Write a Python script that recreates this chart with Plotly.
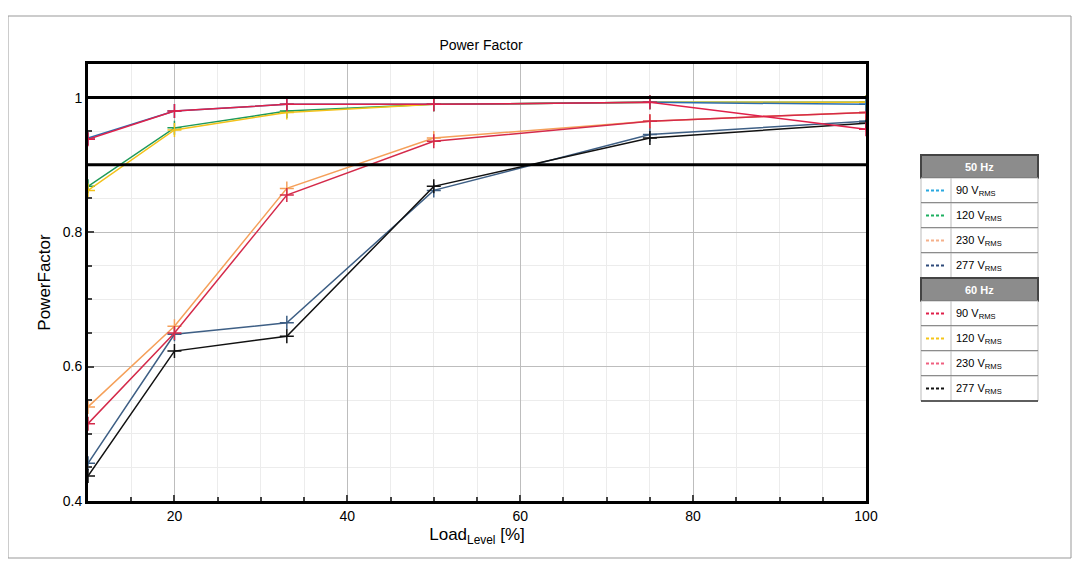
import plotly.graph_objects as go

# Load levels [%]
load = [10, 20, 33, 50, 75, 100]

# Power factor readings, 50 Hz
pf_50_90 = [0.940, 0.980, 0.990, 0.990, 0.993, 0.990]
pf_50_120 = [0.868, 0.955, 0.980, 0.990, 0.993, 0.993]
pf_50_230 = [0.540, 0.660, 0.865, 0.940, 0.965, 0.978]
pf_50_277 = [0.456, 0.648, 0.665, 0.862, 0.945, 0.965]

# Power factor readings, 60 Hz
pf_60_90 = [0.938, 0.980, 0.990, 0.990, 0.993, 0.953]
pf_60_120 = [0.862, 0.952, 0.978, 0.990, 0.993, 0.993]
pf_60_230 = [0.515, 0.650, 0.855, 0.935, 0.965, 0.978]
pf_60_277 = [0.437, 0.623, 0.645, 0.868, 0.940, 0.962]

voltages = ["90", "120", "230", "277"]

series = [
    ("50 Hz 277 V", pf_50_277, "#3e5f85", "#2e4a7a"),
    ("60 Hz 277 V", pf_60_277, "#111111", "#111111"),
    ("50 Hz 230 V", pf_50_230, "#f5a05a", "#f5b08a"),
    ("60 Hz 230 V", pf_60_230, "#d42a4a", "#f06080"),
    ("50 Hz 120 V", pf_50_120, "#1f9a5a", "#1db060"),
    ("60 Hz 120 V", pf_60_120, "#f2c21a", "#f5c518"),
    ("50 Hz 90 V", pf_50_90, "#2a6fb0", "#29a8e0"),
    ("60 Hz 90 V", pf_60_90, "#e0204a", "#e0204a"),
]

fig = go.Figure()
for name, vals, col, _ in series:
    fig.add_trace(go.Scatter(
        x=load, y=vals, name=name, mode="lines+markers",
        line=dict(color=col, width=1.5),
        marker=dict(symbol="cross-thin", size=10, line=dict(color=col, width=1.5)),
        showlegend=False,
    ))

# thick reference lines
for yv in [1.0, 0.9]:
    fig.add_shape(type="line", xref="x", yref="y", x0=10, x1=100, y0=yv, y1=yv,
                  line=dict(color="black", width=3))

W, H = 1080, 569
L, R, T, B = 80, 222, 56, 76
pw, ph = W - L - R, H - T - B


def px(x):
    return (x - 85) / 778


def py(y):
    return (499 - y) / 437


# outer frame
fig.add_shape(type="rect", xref="paper", yref="paper",
              x0=px(5), x1=px(1068), y0=py(556), y1=py(14),
              line=dict(color="#999999", width=1))

# legend table drawn by hand
tx0, tx1, tsplit = 918, 1035, 948
col50 = ["#29a8e0", "#1db060", "#f5b08a", "#2e4a7a"]
col60 = ["#e0204a", "#f5c518", "#f06080", "#111111"]
rows = [("50 Hz", None)] + list(zip(voltages, col50)) + [("60 Hz", None)] + list(zip(voltages, col60))
y = 153
rh = 25
for label, col in rows:
    if col is None:
        fig.add_shape(type="rect", xref="paper", yref="paper", x0=px(tx0), x1=px(tx1),
                      y0=py(y + 23), y1=py(y), fillcolor="#8c8c8c", line=dict(color="#444", width=2))
        fig.add_annotation(x=px((tx0 + tx1) / 2), y=py(y + 11.5), xref="paper", yref="paper",
                           xanchor="center", yanchor="middle",
                           text="<b>" + label + "</b>", showarrow=False,
                           font=dict(color="white", size=11, family="Liberation Sans"))
        y += 23
    else:
        fig.add_shape(type="rect", xref="paper", yref="paper", x0=px(tx0), x1=px(tx1),
                      y0=py(y + rh), y1=py(y), fillcolor="white", line=dict(color="#bbbbbb", width=1))
        fig.add_shape(type="line", xref="paper", yref="paper", x0=px(tsplit), x1=px(tsplit),
                      y0=py(y + rh), y1=py(y), line=dict(color="#bbbbbb", width=1))
        fig.add_shape(type="line", xref="paper", yref="paper", x0=px(tx0), x1=px(tx1),
                      y0=py(y + rh), y1=py(y + rh), line=dict(color="#333333", width=1.5))
        fig.add_shape(type="line", xref="paper", yref="paper", x0=px(923), x1=px(941),
                      y0=py(y + 12.5), y1=py(y + 12.5),
                      line=dict(color=col, width=2, dash="3px,2px"))
        fig.add_annotation(x=px(951), y=py(y + 13), xref="paper", yref="paper",
                           xanchor="left", yanchor="middle", height=20, valign="middle",
                           text=label + " V<sub>RMS</sub>", showarrow=False,
                           font=dict(color="black", size=11, family="Liberation Sans"))
        y += rh

fig.update_layout(
    width=W, height=H, autosize=False,
    margin=dict(l=L, r=R, t=T, b=B, autoexpand=False),
    paper_bgcolor="white", plot_bgcolor="white",
    title=dict(text="Power Factor", x=473 / 1080, xanchor="center", y=1 - 37 / 569, yanchor="middle",
               font=dict(size=14, color="black", family="Liberation Sans")),
    font=dict(family="Liberation Sans", color="black", size=14),
    xaxis=dict(range=[10, 100], tickvals=[20, 40, 60, 80, 100], showline=True, mirror=True,
               linecolor="black", linewidth=3, ticks="inside", ticklen=6, tickwidth=2,
               gridcolor="#bdbdbd", gridwidth=1, zeroline=False,
               minor=dict(dtick=5, showgrid=True, gridcolor="#ececec", ticks="inside", ticklen=4),
               title=dict(text="Load<sub>Level</sub> [%]", standoff=6)),
    yaxis=dict(range=[0.4, 1.05], tickvals=[0.4, 0.6, 0.8, 1], ticktext=["0.4", "0.6", "0.8", "1"],
               showline=True, mirror=True, linecolor="black", linewidth=3, ticks="inside", ticklen=6,
               tickwidth=2, gridcolor="#bdbdbd", zeroline=False,
               minor=dict(dtick=0.05, showgrid=True, gridcolor="#ececec", ticks="inside", ticklen=4),
               title=dict(text="PowerFactor", standoff=8)),
)

fig.write_html("out.html")
